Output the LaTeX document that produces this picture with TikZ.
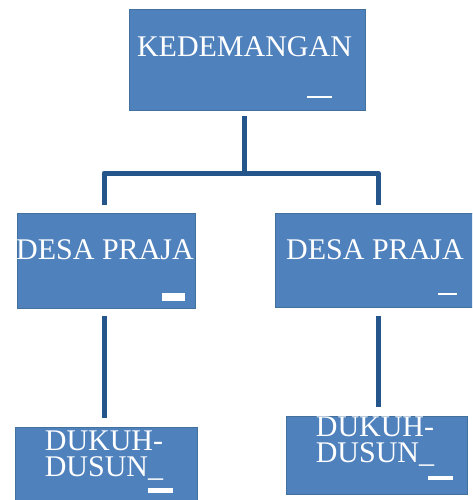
\documentclass[tikz,border=0pt]{standalone}
\usepackage{fontspec}
\setmainfont{Liberation Serif}
\definecolor{boxfill}{HTML}{4F81BD}
\definecolor{boxline}{HTML}{41719C}
\definecolor{linecol}{HTML}{24568C}
\begin{document}
\begin{tikzpicture}[x=1pt,y=-1pt,
  box/.style={draw=boxline, fill=boxfill, line width=0.8pt, inner sep=0pt, anchor=north west},
  lbl/.style={text=white, font=\fontsize{30}{26}\selectfont, inner sep=0pt, align=center},
  conn/.style={draw=linecol, line width=5pt, line join=round},
  wmark/.style={fill=white}]
\useasboundingbox (0,0) rectangle (472,500);
\clip (0,0) rectangle (472,500);
% boxes
\node[box, minimum width=236pt, minimum height=101pt] (kd) at (129,9) {};
\node[box, minimum width=178pt, minimum height=95pt] (dpl) at (17,213) {};
\node[box, minimum width=205pt, minimum height=94pt] (dpr) at (275,213) {};
\node[box, minimum width=182pt, minimum height=80pt] (dkl) at (15,427) {};
\node[box, minimum width=181pt, minimum height=78pt] (dkr) at (286,416) {};
% labels
\node[lbl] (kdt) at (244.5,47) {KEDEMANGAN};
\node[lbl] (dplt) at (105,250) {DESA PRAJA};
\node[lbl] (dprt) at (375,250) {DESA PRAJA};
\node[lbl] (dklt) at (104,456) {DUKUH-\\DUSUN\_};
\node[lbl] (dkrt) at (375,442) {DUKUH-\\DUSUN\_};
% marks
\fill[wmark] (307,96) rectangle (332,98.5);
\fill[wmark] (162,293.3) rectangle (185,300.7);
\fill[wmark] (438,292.7) rectangle (457,295.3);
\fill[wmark] (148,487.7) rectangle (173,493.3);
\fill[wmark] (428,476) rectangle (453,480);
% connectors
\coordinate (tc) at (244,116);
\coordinate (jc) at (244,173);
\coordinate (jl) at (104,173);
\coordinate (jr) at (378,173);
\coordinate (el) at (104,205);
\coordinate (er) at (378,205);
\coordinate (ml) at (104,316);
\coordinate (bl) at (104,418);
\coordinate (mr) at (378,316);
\coordinate (br) at (378,407);
\draw[conn] (tc) -- (jc);
\draw[conn] (el) -- (jl) -- (jr) -- (er);
\draw[conn] (ml) -- (bl);
\draw[conn] (mr) -- (br);
\end{tikzpicture}
\end{document}
